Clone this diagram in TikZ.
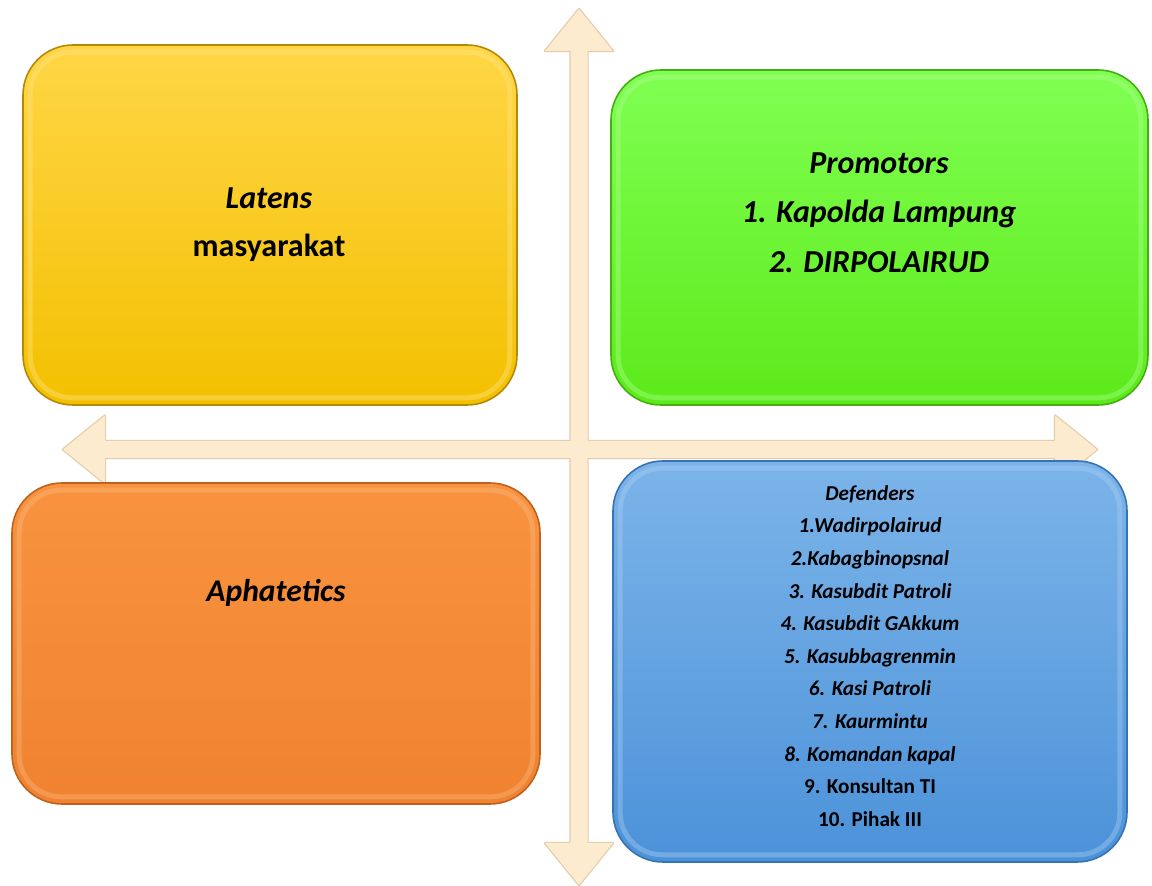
\documentclass[tikz,border=0pt]{standalone}
\usepackage{fontspec}
\setmainfont{Carlito}
\usetikzlibrary{positioning}

\definecolor{krem}{HTML}{FCEBCF}
\definecolor{kremtua}{HTML}{E3CBA8}
\definecolor{kuningA}{HTML}{FFD646}
\definecolor{kuningB}{HTML}{F3C000}
\definecolor{kuningC}{HTML}{B38A08}
\definecolor{hijauA}{HTML}{80FF52}
\definecolor{hijauB}{HTML}{5CEA1A}
\definecolor{hijauC}{HTML}{44AE12}
\definecolor{oranyeA}{HTML}{F8933F}
\definecolor{oranyeB}{HTML}{F08230}
\definecolor{oranyeC}{HTML}{BE621E}
\definecolor{biruA}{HTML}{7CB4E9}
\definecolor{biruB}{HTML}{4C92D9}
\definecolor{biruC}{HTML}{3673B4}

\tikzset{
	panah/.style={draw=kremtua,line width=1.2pt},
	kotak/.style={rounded corners=25pt,line width=0.8pt,inner sep=0pt},
	teks/.style={align=center,text=black},
}

\begin{document}
\begin{tikzpicture}[x=0.5pt,y=-0.5pt,line join=round,font=\bfseries]
	\useasboundingbox (0,0) rectangle (1152,886);
	\path (579,9) coordinate (atas)
	(579,885) coordinate (bawah)
	(63,449.5) coordinate (kiri)
	(1097,449.5) coordinate (kanan)
	;
	% sumbu
	\def\sumbuV{(atas) -- ++(34,42) -- ++(-25.5,0) -- ++(0,792) -- ++(25.5,0) -- (bawah) -- ++(-34,-42) -- ++(25.5,0) -- ++(0,-792) -- ++(-25.5,0) -- cycle}
	\def\sumbuH{(kiri) -- ++(42,-34) -- ++(0,25.5) -- ++(950,0) -- ++(0,-25.5) -- (kanan) -- ++(-42,34) -- ++(0,-25.5) -- ++(-950,0) -- ++(0,25.5) -- cycle}
	\draw[panah] \sumbuH;
	\draw[panah] \sumbuV;
	\fill[krem] \sumbuH;
	\fill[krem] \sumbuV;
	
	% kotak
	\node[kotak,draw=kuningC,top color=kuningA,bottom color=kuningB,minimum width=247pt,minimum height=180pt] (kLatens) at (270,225) {};
	\node[kotak,draw=hijauC,top color=hijauA,bottom color=hijauB,minimum width=268.5pt,minimum height=167.5pt] (kPromotor) at (879.5,237.5) {};
	\node[kotak,draw=oranyeC,top color=oranyeA,bottom color=oranyeB,minimum width=264pt,minimum height=160.5pt] (kApatis) at (276,643.5) {};
	\node[kotak,draw=biruC,top color=biruA,bottom color=biruB,minimum width=257pt,minimum height=200.5pt] (kDefender) at (870,661.5) {};
	
	\foreach \k/\c in {kLatens/kuningA,kPromotor/hijauA,kApatis/oranyeA,kDefender/biruA}
	\draw[rounded corners=21pt,line width=2.5pt,draw=\c!65!white,opacity=0.4]
	([shift={(4pt,-4pt)}]\k.north west) rectangle ([shift={(-4pt,4pt)}]\k.south east);
	
	% isi
	\node[teks,font=\bfseries\fontsize{16pt}{24pt}\selectfont] (tLatens) at (269,225)
	{\textit{Latens}\\masyarakat};
	\node[teks,font=\bfseries\itshape\fontsize{16pt}{24.75pt}\selectfont] (tPromotor) at (879,212.5)
	{Promotors\\1. Kapolda Lampung\\2. DIRPOLAIRUD};
	\node[teks,font=\bfseries\itshape\fontsize{15.8pt}{20pt}\selectfont] (tApatis) at (276,593)
	{Aphatetics};
	\node[teks,font=\bfseries\fontsize{10.6pt}{16.3pt}\selectfont] (tDefender) at (870,656)
	{\textit{Defenders}\\\textit{1.Wadirpolairud}\\\textit{2.Kabagbinopsnal}\\
		\textit{3. Kasubdit Patroli}\\\textit{4. Kasubdit GAkkum}\\\textit{5. Kasubbagrenmin}\\
		\textit{6. Kasi Patroli}\\\textit{7. Kaurmintu}\\\textit{8. Komandan kapal}\\
		9. Konsultan TI\\10. Pihak III};
\end{tikzpicture}
\end{document}
